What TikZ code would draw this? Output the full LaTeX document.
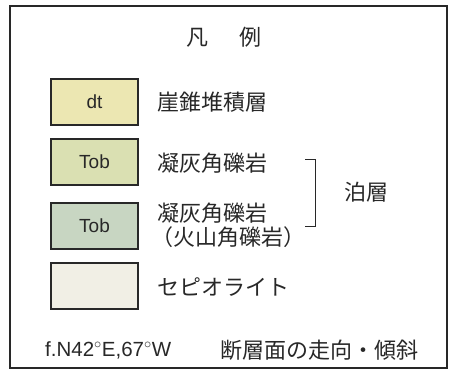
\documentclass[tikz,border=0pt]{standalone}
\usepackage{fontspec}
\setmainfont{Liberation Sans}
\newfontfamily\jpfont{Noto Sans CJK JP}
\definecolor{dtcol}{RGB}{236,231,178}
\definecolor{tobcol}{RGB}{218,224,178}
\definecolor{tobvcol}{RGB}{200,214,194}
\definecolor{sepcol}{RGB}{241,239,229}
\definecolor{inkcol}{RGB}{40,40,40}
\begin{document}
\begin{tikzpicture}[x=1pt, y=-1pt,
    unitbox/.style={draw=inkcol, line width=1.2pt, minimum width=87pt, minimum height=46pt, inner sep=0pt, font=\fontsize{19}{19}\selectfont, text=inkcol},
    jtext/.style={anchor=west, inner sep=0pt, font=\jpfont\fontsize{22}{26}\selectfont, text=inkcol}]
  \useasboundingbox (0,0) rectangle (450,378);
  \draw [inkcol, line width=1.2pt] (10,6) rectangle (447,368);

  \node [font=\jpfont\fontsize{22}{22}\selectfont, text=inkcol] (title) at (224,37) {凡\hspace{1.4em}例};

  \node [unitbox, fill=dtcol] (dt) at (94.5,102) {dt};
  \node [jtext] (dtlabel) at (157,102) {崖錐堆積層};

  \node [unitbox, fill=tobcol] (tob) at (94.5,162) {Tob};
  \node [jtext] (toblabel) at (157,163) {凝灰角礫岩};

  \node [unitbox, fill=tobvcol] (tobv) at (94.5,226) {Tob};
  \node [jtext] (tobvlabel) at (157,213) {凝灰角礫岩};
  \node [jtext] (tobvsub) at (151,237) {（火山角礫岩）};

  \draw [inkcol, line width=1pt] (305,159) -- (315,159) -- (315,226) -- (305,226);
  \node [jtext] (tomari) at (344,192) {泊層};

  \node [unitbox, fill=sepcol] (sep) at (94.5,286) {};
  \node [jtext] (seplabel) at (157,287) {セピオライト};

  \node [anchor=west, inner sep=0pt, font=\fontsize{20.5}{20.5}\selectfont, text=inkcol] (fault) at (45,350) {f.N42$^\circ$E,67$^\circ$W};
  \node [jtext] (faultlabel) at (220,350) {断層面の走向・傾斜};
\end{tikzpicture}
\end{document}
